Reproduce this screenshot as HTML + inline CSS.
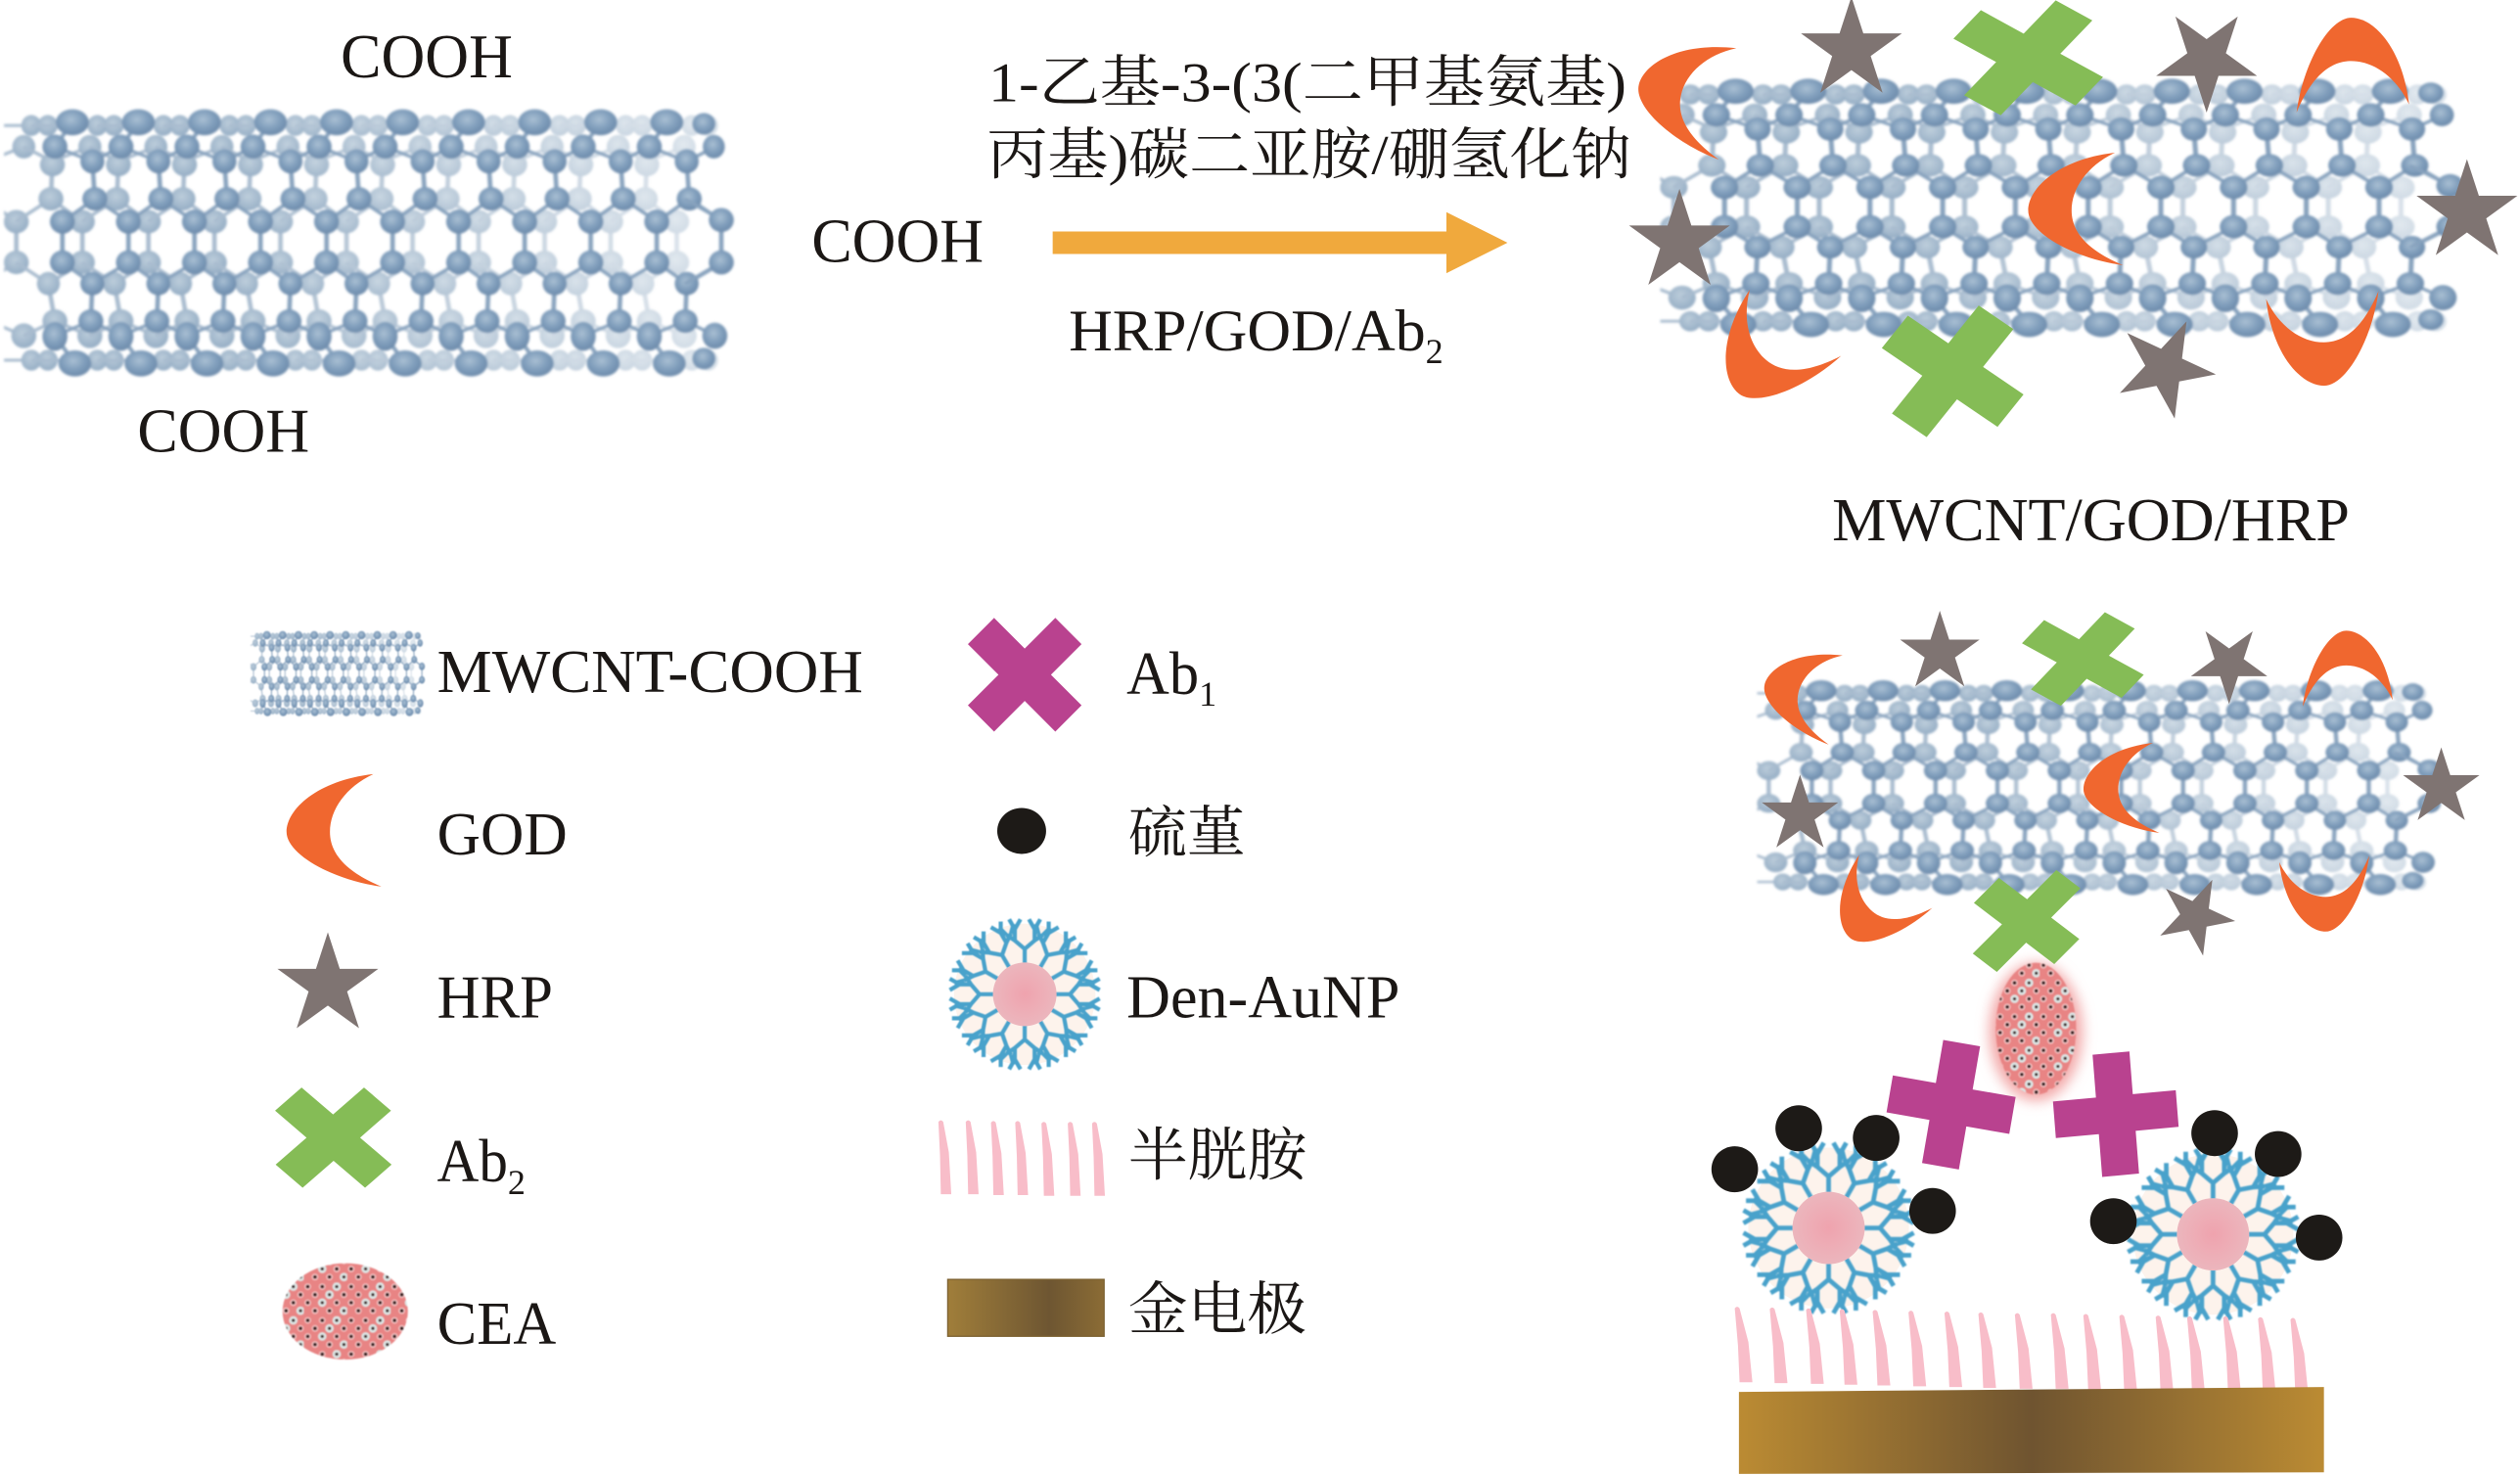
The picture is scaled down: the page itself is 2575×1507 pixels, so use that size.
<!DOCTYPE html>
<html lang="zh"><head><meta charset="utf-8"><title>MWCNT diagram</title>
<style>html,body{margin:0;padding:0;background:#fff}svg{display:block}
text{font-family:"Liberation Serif","Noto Serif CJK SC",serif;fill:#1b1715}</style></head>
<body>
<svg xmlns="http://www.w3.org/2000/svg" width="2575" height="1507" viewBox="0 0 1568 917.7" preserveAspectRatio="none">
<defs>
<radialGradient id="a" cx=".45" cy=".4" r=".6"><stop offset="0" stop-color="#a9bfd3"/><stop offset=".6" stop-color="#7f9dbb"/><stop offset="1" stop-color="#6d8bab"/></radialGradient>
<radialGradient id="b" cx=".45" cy=".4" r=".6"><stop offset="0" stop-color="#bccddb"/><stop offset="1" stop-color="#96aec5"/></radialGradient>
<radialGradient id="core"><stop offset="0" stop-color="#efa3ae"/><stop offset="1" stop-color="#ecb6bd"/></radialGradient>
<linearGradient id="fg" gradientUnits="userSpaceOnUse" x1="0" y1="0" x2="1500" y2="0"><stop offset="0" stop-color="#fff"/><stop offset=".3" stop-color="#fff"/><stop offset="1" stop-color="#5a5a5a"/></linearGradient>
<mask id="fade" maskUnits="userSpaceOnUse" x="8" y="250" width="1500" height="1000"><rect x="8" y="250" width="1500" height="1000" fill="url(#fg)"/></mask>
<linearGradient id="au1"><stop offset="0" stop-color="#bb8b33"/><stop offset=".5" stop-color="#6f5430"/><stop offset="1" stop-color="#bb8b33"/></linearGradient>
<linearGradient id="au2"><stop offset="0" stop-color="#a07e3a"/><stop offset=".65" stop-color="#6e5632"/><stop offset="1" stop-color="#8b6c35"/></linearGradient>
<filter id="bl" x="-5%" y="-5%" width="110%" height="110%"><feGaussianBlur stdDeviation=".8"/></filter>
<filter id="bl1" x="-10%" y="-10%" width="120%" height="120%"><feGaussianBlur stdDeviation=".45"/></filter>
<filter id="bl2" x="-15%" y="-15%" width="130%" height="130%"><feGaussianBlur stdDeviation="1"/></filter>
<filter id="bl3" x="-30%" y="-30%" width="160%" height="160%"><feGaussianBlur stdDeviation="4"/></filter>
<pattern id="cea" width="27" height="21" patternUnits="userSpaceOnUse">
<rect width="27" height="21" fill="#e88484"/>
<g fill="#f7c9c9"><circle cx="2.5" cy="2.5" r="2"/><circle cx="11.5" cy="2.5" r="2"/><circle cx="7" cy="7.5" r="2"/><circle cx="25" cy="7.5" r="2"/><circle cx="2.5" cy="12.5" r="2"/><circle cx="20.5" cy="12.5" r="2"/><circle cx="7" cy="17.5" r="2"/><circle cx="16" cy="17.5" r="2"/></g>
<g fill="#dde7e6"><circle cx="20.5" cy="2.5" r="2.6"/><circle cx="16" cy="7.5" r="2.6"/><circle cx="11.5" cy="12.5" r="2.6"/><circle cx="25" cy="17.5" r="2.6"/></g>
<g fill="#2f1414"><circle cx="2.5" cy="2.5" r="1.15"/><circle cx="11.5" cy="2.5" r="1.15"/><circle cx="7" cy="7.5" r="1.15"/><circle cx="25" cy="7.5" r="1.15"/><circle cx="2.5" cy="12.5" r="1.15"/><circle cx="20.5" cy="12.5" r="1.15"/><circle cx="7" cy="17.5" r="1.15"/><circle cx="16" cy="17.5" r="1.15"/><circle cx="20.5" cy="2.5" r="1"/><circle cx="16" cy="7.5" r="1"/><circle cx="11.5" cy="12.5" r="1"/><circle cx="25" cy="17.5" r="1"/></g>
</pattern>

<g id="pb">
<path d="M165,680 L102,610 L105,495 L180,450 M102,610 L32,680 M165,680 V805 L97,870 L110,985 L180,1030 M97,870 L32,805 M105,495 L47,450 M110,985 L47,1030 M62,385 H228 M62,1105 H228" fill="none" stroke="#a9bccf" stroke-width="9"/>
<g fill="url(#b)">
<ellipse cx="102" cy="610" rx="25" ry="36"/><ellipse cx="165" cy="680" rx="25" ry="36"/><ellipse cx="165" cy="805" rx="25" ry="36"/><ellipse cx="97" cy="870" rx="23" ry="36"/><ellipse cx="110" cy="985" rx="25" ry="36"/><ellipse cx="105" cy="505" rx="25" ry="36"/><ellipse cx="180" cy="450" rx="23" ry="36"/><ellipse cx="180" cy="1030" rx="25" ry="38"/>
<ellipse cx="195" cy="385" rx="20" ry="32"/><ellipse cx="228" cy="385" rx="20" ry="32"/><ellipse cx="195" cy="1105" rx="20" ry="32"/><ellipse cx="228" cy="1105" rx="20" ry="32"/>
</g>
</g>
<g id="pf">
<path d="M125,680 L190,610 L185,495 L110,450 M185,495 L243,450 M190,610 L258,680 M125,680 V805 L185,870 L258,805 M185,870 L182,985 L110,1030 M182,985 L243,1030 M110,450 L145,375 M110,1030 L150,1115" fill="none" stroke="#88a3be" stroke-width="9"/>
<g fill="url(#a)">
<ellipse cx="145" cy="375" rx="33" ry="40"/><ellipse cx="110" cy="450" rx="25" ry="37"/><ellipse cx="185" cy="495" rx="24" ry="37"/><ellipse cx="190" cy="610" rx="25" ry="36"/><ellipse cx="125" cy="680" rx="25" ry="37"/><ellipse cx="125" cy="805" rx="25" ry="37"/><ellipse cx="185" cy="870" rx="24" ry="36"/><ellipse cx="182" cy="985" rx="25" ry="36"/><ellipse cx="110" cy="1032" rx="25" ry="44"/><ellipse cx="150" cy="1115" rx="33" ry="40"/>
</g>
</g>
<g id="tube">
<g mask="url(#fade)">
<use href="#pb" x="-132.3"/><use href="#pb"/><use href="#pb" x="132.3"/><use href="#pb" x="264.6"/><use href="#pb" x="396.9"/><use href="#pb" x="529.2"/><use href="#pb" x="661.5"/><use href="#pb" x="793.8"/><use href="#pb" x="926.1"/><use href="#pb" x="1058.4"/><use href="#pb" x="1190.7"/>
</g>
<use href="#pf"/><use href="#pf" x="132.3"/><use href="#pf" x="264.6"/><use href="#pf" x="396.9"/><use href="#pf" x="529.2"/><use href="#pf" x="661.5"/><use href="#pf" x="793.8"/><use href="#pf" x="926.1"/><use href="#pf" x="1058.4"/><use href="#pf" x="1190.7"/>
<path d="M1372,610 L1445,675 V805 L1372,870" fill="none" stroke="#88a3be" stroke-width="9"/>
<g fill="url(#a)"><ellipse cx="1445" cy="675" rx="25" ry="37"/><ellipse cx="1445" cy="805" rx="25" ry="37"/><ellipse cx="1430" cy="450" rx="22" ry="36"/><ellipse cx="1432" cy="1030" rx="25" ry="40"/><ellipse cx="1410" cy="380" rx="23" ry="33"/><ellipse cx="1410" cy="1100" rx="23" ry="33"/></g>
</g>

<polygon id="star" points="0,-1 .2245,-.309 .951,-.309 .363,.118 .588,.809 0,.382 -.588,.809 -.363,.118 -.951,-.309 -.2245,-.309" fill="#7f7472"/>
<path id="moon" d="M27,-36 C-8,-32 -27,-14 -27,0 C-27,14 2,30 32,34 C8,24 0,12 0,0 C0,-14 10,-28 27,-36Z" fill="#f0672f"/>
<polygon id="plus" points="-.3,-1 .3,-1 .3,-.3 1,-.3 1,.3 .3,.3 .3,1 -.3,1 -.3,.3 -1,.3 -1,-.3 -.3,-.3"/>

<g id="br"><path d="M0,-22V-32M0,-32L-7,-38V-46M-7,-38L-13,-42M0,-32L7,-38V-46M7,-38L13,-42M-7,-46L-11,-53M-7,-46L-3,-53M7,-46L11,-53M7,-46L3,-53M-13,-42L-18,-47M13,-42L18,-47" fill="none" stroke="#4aa2cb" stroke-width="2.9"/></g>
<g id="den">
<circle r="50" fill="#fdf3ec"/>
<g filter="url(#bl1)"><use href="#br"/><use href="#br" transform="rotate(30)"/><use href="#br" transform="rotate(60)"/><use href="#br" transform="rotate(90)"/><use href="#br" transform="rotate(120)"/><use href="#br" transform="rotate(150)"/><use href="#br" transform="rotate(180)"/><use href="#br" transform="rotate(210)"/><use href="#br" transform="rotate(240)"/><use href="#br" transform="rotate(270)"/><use href="#br" transform="rotate(300)"/><use href="#br" transform="rotate(330)"/></g>
<circle r="22.5" fill="url(#core)"/>
</g>
<path id="st" d="M0,1 Q1.5,-1 3,1 L8.5,22 L11,47 L3,47 L2,24Z" fill="#f8bdc9"/>
<path id="st2" d="M0,1 Q1.5,-1 3,1 L6.5,20 L8,46 L1.5,46 L1,22Z" fill="#f8bdc9"/>
</defs>

<rect width="1568" height="918" fill="#fff"/>

<!-- tube 1 -->
<g filter="url(#bl)"><use href="#tube" transform="scale(.3106,.2028)"/></g>
<text x="212" y="48" font-size="39" textLength="107" lengthAdjust="spacingAndGlyphs">COOH</text>
<text x="85.5" y="281" font-size="39" textLength="107" lengthAdjust="spacingAndGlyphs">COOH</text>
<text x="505" y="163" font-size="39" textLength="107" lengthAdjust="spacingAndGlyphs">COOH</text>

<!-- reaction text + arrow -->
<text x="615" y="63" font-size="35" textLength="397" lengthAdjust="spacingAndGlyphs">1-乙基-3-(3(二甲基氨基)</text>
<text x="614" y="108" font-size="35" textLength="401" lengthAdjust="spacingAndGlyphs">丙基)碳二亚胺/硼氢化钠</text>
<polygon points="655,144 900,144 900,132 938,151 900,170 900,158 655,158" fill="#f0a93d"/>
<text x="665" y="218" font-size="37" textLength="222" lengthAdjust="spacingAndGlyphs">HRP/GOD/Ab</text>
<text x="887" y="226" font-size="22">2</text>

<!-- tube 2 -->
<g filter="url(#bl)"><use href="#tube" transform="translate(1030.3,-16.7) scale(.342,.196)"/></g>
<use href="#moon" transform="translate(1046,59) rotate(13)"/>
<use href="#moon" transform="translate(1463,38) rotate(90)"/>
<use href="#moon" transform="translate(1289,131)"/>
<use href="#moon" transform="translate(1099,224) rotate(-50)"/>
<use href="#moon" transform="translate(1446,213) rotate(-90)"/>
<use href="#star" transform="translate(1152,31) scale(33)"/>
<use href="#star" transform="translate(1373,37) rotate(180) scale(33)"/>
<use href="#star" transform="translate(1045,150.5) scale(33)"/>
<use href="#star" transform="translate(1535,132) scale(33)"/>
<use href="#star" transform="translate(1347,229) rotate(25) scale(32)"/>
<use href="#plus" fill="#85bc56" transform="matrix(38,20.8,-28.5,29.5,1262,36)"/>
<use href="#plus" fill="#85bc56" transform="matrix(36,24.5,-27,33.6,1215,231)"/>
<text x="1140" y="336" font-size="38" textLength="322" lengthAdjust="spacingAndGlyphs">MWCNT/GOD/HRP</text>

<!-- tube 3 -->
<g filter="url(#bl)"><use href="#tube" transform="translate(1091,368.6) scale(.291,.163)"/></g>
<use href="#moon" transform="translate(1119,431) rotate(13) scale(.8)"/>
<use href="#moon" transform="translate(1460,414) rotate(90) scale(.8)"/>
<use href="#moon" transform="translate(1318,491) scale(.8)"/>
<use href="#moon" transform="translate(1165,567) rotate(-50) scale(.8)"/>
<use href="#moon" transform="translate(1447,558) rotate(-90) scale(.8)"/>
<use href="#star" transform="translate(1207,406) scale(26)"/>
<use href="#star" transform="translate(1387,413) rotate(180) scale(25)"/>
<use href="#star" transform="translate(1120,507) scale(25)"/>
<use href="#star" transform="translate(1519,490) scale(25)"/>
<use href="#star" transform="translate(1366,570) rotate(25) scale(25)"/>
<use href="#plus" fill="#85bc56" transform="matrix(31,17,-23,24,1296,410)"/>

<!-- sandwich assembly -->
<ellipse cx="1266.8" cy="642" rx="29" ry="43" fill="#f3a9a9" filter="url(#bl3)"/>
<g filter="url(#bl1)"><ellipse cx="1266.8" cy="640" rx="25" ry="41" fill="url(#cea)"/></g>
<use href="#plus" fill="#85bc56" transform="matrix(25,19,-26,26,1261,573)"/>
<use href="#plus" fill="#b9428f" transform="matrix(38.2,6.7,-6.6,38.3,1214,687.3)"/>
<use href="#plus" fill="#b9428f" transform="matrix(38.2,-3.5,3,38,1316.5,693.2)"/>
<use href="#den" transform="translate(1137.8,764)"/>
<use href="#den" transform="translate(1377,768)"/>
<g fill="#1d1a17">
<ellipse cx="1079.4" cy="727.5" rx="14.5" ry="14.3"/><ellipse cx="1119.2" cy="702" rx="14.5" ry="14.3"/><ellipse cx="1167.4" cy="708" rx="14.5" ry="14.3"/><ellipse cx="1202.5" cy="753.4" rx="14.5" ry="14.3"/>
<ellipse cx="1315" cy="759.8" rx="14.5" ry="14.3"/><ellipse cx="1378" cy="705" rx="14.5" ry="14.3"/><ellipse cx="1417.5" cy="718" rx="14.5" ry="14.3"/><ellipse cx="1443" cy="770" rx="14.5" ry="14.3"/>
</g>
<use href="#st" transform="translate(1079.4,813)"/><use href="#st" transform="translate(1101.2,813.5)"/><use href="#st" transform="translate(1123.8,814)"/><use href="#st" transform="translate(1144.7,814.5)"/><use href="#st" transform="translate(1165.2,815)"/><use href="#st" transform="translate(1187.5,815.5)"/><use href="#st" transform="translate(1209.9,816)"/><use href="#st" transform="translate(1231,816.5)"/><use href="#st" transform="translate(1253.7,817)"/><use href="#st" transform="translate(1276.1,817)"/><use href="#st" transform="translate(1296.3,817.5)"/><use href="#st" transform="translate(1318.7,818)"/><use href="#st" transform="translate(1341.3,818.5)"/><use href="#st" transform="translate(1360.9,819)"/><use href="#st" transform="translate(1383.3,819)"/><use href="#st" transform="translate(1405,819.5)"/><use href="#st" transform="translate(1425.2,820)"/>
<polygon points="1082,866 1446,863 1446,916 1082,917" fill="url(#au1)"/>

<!-- legend left -->
<g filter="url(#bl1)"><use href="#tube" transform="translate(155.3,371) scale(.0742,.0646)"/></g>
<use href="#moon" transform="translate(205.3,517.6)"/>
<use href="#star" transform="translate(204,613) scale(33)"/>
<use href="#plus" fill="#85bc56" transform="matrix(28,24,-27.5,24,207.4,707.8)"/>
<g filter="url(#bl1)"><ellipse cx="214.8" cy="815.9" rx="39" ry="30" fill="url(#cea)"/></g>
<text x="272" y="430.6" font-size="38" textLength="265" lengthAdjust="spacingAndGlyphs">MWCNT-COOH</text>
<text x="272" y="531.6" font-size="38" textLength="81" lengthAdjust="spacingAndGlyphs">GOD</text>
<text x="272" y="633" font-size="38" textLength="72" lengthAdjust="spacingAndGlyphs">HRP</text>
<text x="272" y="735" font-size="38" textLength="44" lengthAdjust="spacingAndGlyphs">Ab</text>
<text x="316" y="743" font-size="22">2</text>
<text x="272" y="836" font-size="38" textLength="74" lengthAdjust="spacingAndGlyphs">CEA</text>

<!-- legend right -->
<use href="#plus" fill="#b9428f" transform="matrix(27.2,27.2,-27.2,27.2,637.6,419.8)"/>
<ellipse cx="635.7" cy="517" rx="15.2" ry="14.3" fill="#1d1a17"/>
<use href="#den" transform="translate(637.6,618.6) scale(.88)"/>
<use href="#st2" transform="translate(583.9,697)"/><use href="#st2" transform="translate(600.9,697)"/><use href="#st2" transform="translate(616.6,697.5)"/><use href="#st2" transform="translate(631.7,697.5)"/><use href="#st2" transform="translate(648,698)"/><use href="#st2" transform="translate(664.4,698)"/><use href="#st2" transform="translate(679.5,698)"/>
<rect x="589.7" y="796" width="97.3" height="35.4" fill="url(#au2)" stroke="#7d6232" stroke-width=".8"/>
<text x="701" y="431.6" font-size="38" textLength="45" lengthAdjust="spacingAndGlyphs">Ab</text>
<text x="746" y="439" font-size="22">1</text>
<text x="702" y="530" font-size="35" textLength="73" lengthAdjust="spacingAndGlyphs">硫堇</text>
<text x="701" y="633" font-size="38" textLength="170" lengthAdjust="spacingAndGlyphs">Den-AuNP</text>
<text x="702" y="731" font-size="36" textLength="111" lengthAdjust="spacingAndGlyphs">半胱胺</text>
<text x="702" y="827" font-size="36" textLength="111" lengthAdjust="spacingAndGlyphs">金电极</text>
</svg>
</body></html>
